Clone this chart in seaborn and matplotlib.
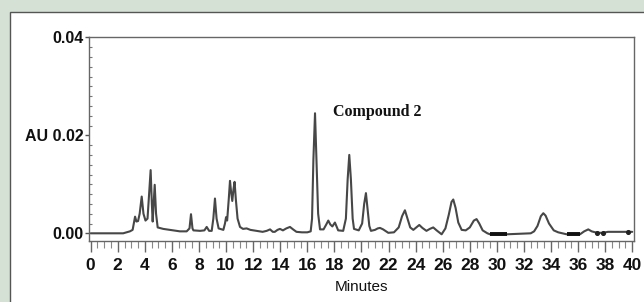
import matplotlib
matplotlib.use("Agg")
import matplotlib.pyplot as plt
import seaborn as sns
import pandas as pd
from matplotlib.patches import Rectangle
from matplotlib.ticker import MultipleLocator

# chromatogram trace (minutes, AU)
minutes = [0.0, 2.4, 2.9, 3.1, 3.2, 3.28, 3.38, 3.5, 3.62, 3.77, 3.9, 4.05, 4.2, 4.32,
           4.43, 4.52, 4.58, 4.65, 4.73, 4.83, 4.95, 5.36, 6.1, 6.59, 7.09, 7.3, 7.41,
           7.52, 7.59, 8.08, 8.4, 8.57, 8.75, 8.94, 9.06, 9.18, 9.3, 9.45, 9.8, 9.92,
           10.0, 10.08, 10.2, 10.29, 10.37, 10.46, 10.55, 10.63, 10.72, 10.85, 11.03,
           11.25, 11.52, 11.8, 12.26, 12.7, 13.0, 13.25, 13.45, 13.6, 13.8, 13.98, 14.2,
           14.45, 14.72, 14.95, 15.2, 15.6, 16.0, 16.25, 16.35, 16.45, 16.57, 16.68,
           16.8, 16.94, 17.2, 17.4, 17.55, 17.7, 17.85, 18.04, 18.28, 18.65, 18.85,
           18.98, 19.1, 19.22, 19.35, 19.45, 19.8, 20.05, 20.2, 20.33, 20.45, 20.58,
           20.7, 21.0, 21.2, 21.37, 21.6, 21.98, 22.4, 22.75, 23.0, 23.21, 23.4, 23.6,
           23.83, 24.05, 24.27, 24.5, 24.8, 25.05, 25.3, 25.55, 25.92, 26.2, 26.45,
           26.65, 26.78, 26.95, 27.15, 27.4, 27.7, 28.0, 28.3, 28.5, 28.7, 28.95, 29.3,
           29.5, 30.75, 32.5, 32.75, 33.0, 33.25, 33.43, 33.6, 33.85, 34.2, 34.53,
           35.15, 36.14, 36.45, 36.75, 37.0, 37.4, 37.84, 38.2, 40.0]
au = [0.0, 0.0, 0.0004, 0.0007, 0.0022, 0.0034, 0.0024, 0.0025, 0.0040, 0.0075,
      0.0040, 0.0026, 0.0030, 0.0080, 0.0129, 0.0060, 0.0024, 0.0060, 0.0099, 0.0040,
      0.0012, 0.0009, 0.0006, 0.0004, 0.0004, 0.0010, 0.0039, 0.0010, 0.0006, 0.0005,
      0.0006, 0.0013, 0.0005, 0.0005, 0.0030, 0.0071, 0.0030, 0.0010, 0.0007, 0.0020,
      0.0033, 0.0026, 0.0070, 0.0107, 0.0085, 0.0066, 0.0090, 0.0105, 0.0070, 0.0030,
      0.0013, 0.0009, 0.0010, 0.0007, 0.0005, 0.0003, 0.0005, 0.0008, 0.0003, 0.0003,
      0.0007, 0.0009, 0.0006, 0.0010, 0.0013, 0.0008, 0.0003, 0.0002, 0.0002, 0.0004,
      0.0030, 0.0150, 0.0245, 0.0150, 0.0040, 0.0008, 0.0008, 0.0018, 0.0026, 0.0018,
      0.0014, 0.0022, 0.0006, 0.0005, 0.0030, 0.0110, 0.0160, 0.0110, 0.0030, 0.0009,
      0.0006, 0.0020, 0.0060, 0.0082, 0.0050, 0.0015, 0.0005, 0.0007, 0.0010, 0.0011,
      0.0008, 0.0001, 0.0002, 0.0012, 0.0035, 0.0047, 0.0030, 0.0012, 0.0007, 0.0012,
      0.0017, 0.0011, 0.0005, 0.0009, 0.0012, 0.0006, -0.0002, 0.0010, 0.0038, 0.0064,
      0.0069, 0.0052, 0.0022, 0.0007, 0.0006, 0.0012, 0.0026, 0.0029, 0.0020, 0.0006,
      0.0000, -0.0002, -0.0002, 0.0000, 0.0004, 0.0015, 0.0035, 0.0041, 0.0036, 0.0020,
      0.0006, 0.0002, -0.0002, -0.0002, 0.0004, 0.0008, 0.0004, 0.0001, 0.0001, 0.0003,
      0.0003]

# baseline markers (thick segments) and event dots
mark_start = [29.5, 35.15]
mark_end = [30.75, 36.14]
mark_level = [-0.0002, -0.0002]
dot_t = [37.4, 37.84, 39.7]
dot_au = [0.0001, 0.0001, 0.0003]

x_ticks = list(range(0, 41, 2))
y_ticks = [0.0, 0.02, 0.04]
y_labels = ["0.00", "AU 0.02", "0.04"]

sns.set_style("white")
plt.rcParams['font.family'] = ['Liberation Sans', 'DejaVu Sans']

df = pd.DataFrame({'Minutes': minutes, 'AU': au})

fig = plt.figure(figsize=(6.44, 3.02), dpi=100, facecolor='#d5e1d5')
panel = Rectangle((10 / 644, -0.1), 1.2, 1.1 - 12 / 302,
                  transform=fig.transFigure, facecolor='white',
                  edgecolor='#555555', lw=1.0, zorder=-10)
fig.add_artist(panel)
ax = fig.add_axes([89.3 / 644, 1 - 241 / 302, (634.3 - 89.3) / 644, (241 - 37.3) / 302])
ax.set_zorder(1)
ax.set_facecolor('white')

sns.lineplot(data=df, x='Minutes', y='AU', ax=ax, color='#474747', lw=1.5,
             estimator=None, sort=False)
for s, e, lv in zip(mark_start, mark_end, mark_level):
    ax.plot([s, e], [lv, lv], color='#111111', lw=2.8, solid_capstyle='butt')
ax.scatter(dot_t, dot_au, s=7, color='#222222', zorder=3)

ax.text(17.92, 0.0248, 'Compound 2', family='Liberation Serif', fontweight='bold',
        fontsize=11.5, va='center', ha='left', color='#111111')

ax.set_xlim(-0.1, 40.15)
ax.set_ylim(-0.00157, 0.04)
ax.set_xticks(x_ticks)
ax.set_xticklabels([str(t) for t in x_ticks], fontsize=12.5, fontweight='bold',
                   color='#111111')
ax.xaxis.set_minor_locator(MultipleLocator(0.5))
ax.set_yticks(y_ticks)
ax.set_yticklabels(y_labels, fontsize=11.5, fontweight='bold', color='#111111')
ax.yaxis.set_minor_locator(MultipleLocator(0.002))

ax.tick_params(axis='x', which='major', direction='out', length=8, width=1.0,
               color='#666666', pad=4, bottom=True)
ax.tick_params(axis='x', which='minor', direction='out', length=5, width=0.8,
               color='#888888', bottom=True)
ax.tick_params(axis='y', which='major', direction='out', length=3, width=1.0,
               color='#555555', pad=1, left=True)
ax.tick_params(axis='y', which='minor', direction='in', length=2, width=0.8,
               color='#777777', left=True)

for sp in ax.spines.values():
    sp.set_color('#666666')
    sp.set_linewidth(1.0)

ax.set_xlabel('Minutes', fontsize=11, labelpad=5, color='#111111')
ax.set_ylabel('')

fig.savefig('out.png', dpi=100, facecolor=fig.get_facecolor())
